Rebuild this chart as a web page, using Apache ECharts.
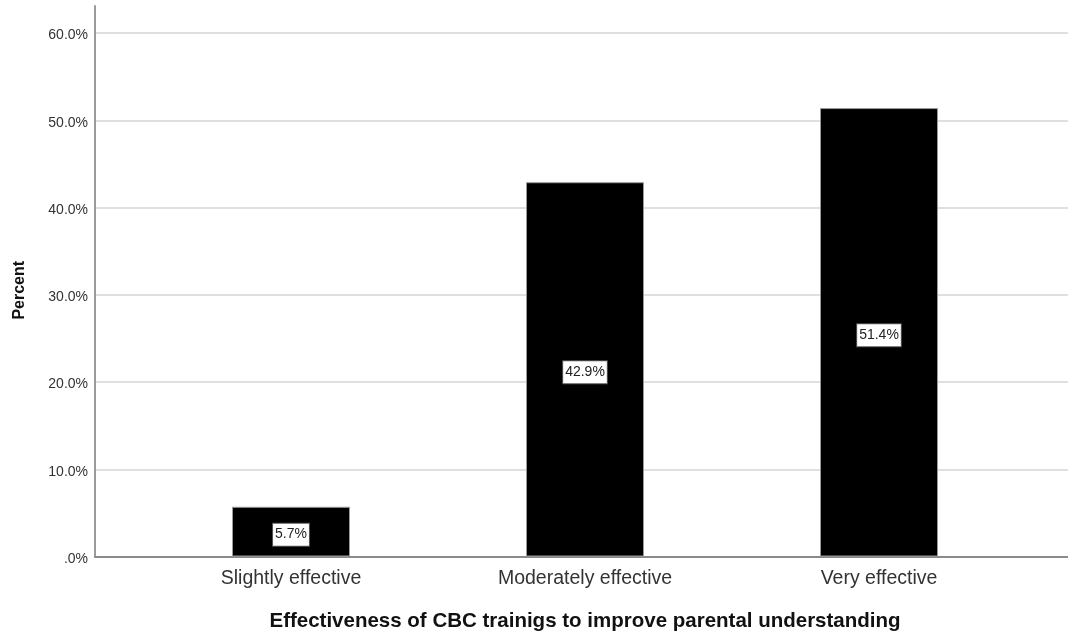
<!DOCTYPE html>
<html>
<head>
<meta charset="utf-8">
<script src="https://cdn.jsdelivr.net/npm/echarts@6/dist/echarts.min.js"></script>
<style>html,body{margin:0;padding:0;background:#fff}#chart{width:1068px;height:633px}</style>
</head>
<body>
<div id="chart"></div>
<script>
var categories = ['Slightly effective', 'Moderately effective', 'Very effective'];
var percentValues = [5.7, 42.9, 51.4];
var yTicks = [0, 10, 20, 30, 40, 50, 60];
var xTitle = 'Effectiveness of CBC trainigs to improve parental understanding';
var yTitle = 'Percent';

var FONT = '"Liberation Sans", Arial, sans-serif';
var YMAX = 63.1;

function tickLabel(v) {
  if (yTicks.indexOf(Math.round(v * 1000) / 1000) < 0) return '';
  return '{t|' + (v === 0 ? '.0%' : v.toFixed(1) + '%') + '}';
}

var chart = echarts.init(document.getElementById('chart'), null, {renderer: 'canvas'});
chart.setOption({
  animation: false,
  backgroundColor: '#fff',
  textStyle: {fontFamily: FONT},
  grid: [
    {left: 95, right: 0, top: 6, bottom: 76.5, containLabel: false, outerBoundsMode: 'none'},
    {left: 144, width: 882, top: 6, bottom: 76.5, containLabel: false, outerBoundsMode: 'none'}
  ],
  xAxis: [
    {
      gridIndex: 0, type: 'value', min: 0, max: 1,
      axisLine: {show: true, lineStyle: {color: '#8a8a8a', width: 2}},
      axisTick: {show: false}, axisLabel: {show: false}, splitLine: {show: false}
    },
    {
      gridIndex: 1, type: 'category', data: categories,
      axisLine: {show: false}, axisTick: {show: false},
      axisLabel: {fontSize: 19.5, color: '#333', margin: 12.5, fontFamily: FONT},
      name: xTitle, nameLocation: 'middle', nameGap: 54,
      nameTextStyle: {fontSize: 20.5, fontWeight: 'bold', color: '#111', fontFamily: FONT}
    }
  ],
  yAxis: [
    {
      gridIndex: 0, type: 'value', min: 0, max: YMAX, interval: 10,
      axisLine: {show: true, lineStyle: {color: '#9a9a9a', width: 2}},
      axisTick: {show: false},
      axisLabel: {
        formatter: tickLabel, margin: 7, showMaxLabel: false,
        rich: {t: {fontSize: 14, color: '#333', fontFamily: FONT, lineHeight: 16, padding: [5, 0, 0, 0]}}
      },
      splitLine: {show: true, showMaxLine: false, lineStyle: {color: '#d4d4d4', width: 1.5}},
      name: yTitle, nameLocation: 'middle', nameGap: 67, nameRotate: 90,
      nameTextStyle: {fontSize: 16, fontWeight: 'bold', color: '#111', fontFamily: FONT, padding: [0, 18, 0, 0]}
    },
    {
      gridIndex: 1, type: 'value', min: 0, max: YMAX, show: false
    }
  ],
  series: [{
    type: 'bar',
    xAxisIndex: 1, yAxisIndex: 1,
    data: percentValues,
    barWidth: 118,
    itemStyle: {color: '#000', borderColor: '#9a9a9a', borderWidth: 1},
    label: {
      show: true, position: 'inside', offset: [0, 3],
      formatter: function (p) { return p.value.toFixed(1) + '%'; },
      fontSize: 14, color: '#222', fontFamily: FONT,
      backgroundColor: '#fff', borderColor: '#555', borderWidth: 1,
      padding: [3, 2], lineHeight: 16
    }
  }]
});
</script>
</body>
</html>
